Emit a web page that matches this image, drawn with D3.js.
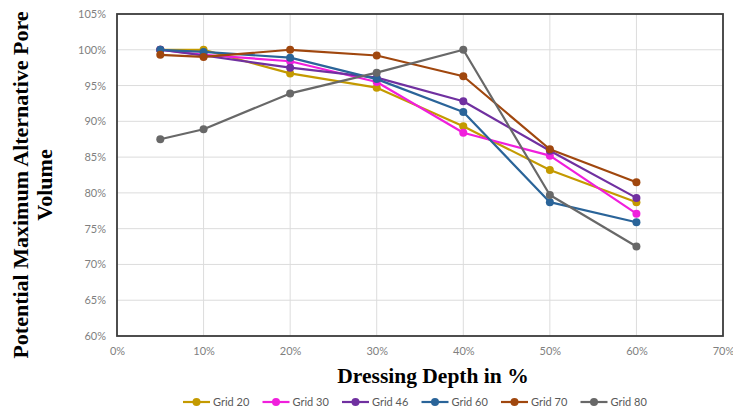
<!DOCTYPE html>
<html>
<head>
<meta charset="utf-8">
<script src="https://cdn.jsdelivr.net/npm/d3@7"></script>
<style>
  html, body { margin: 0; padding: 0; background: #fff; }
  svg { display: block; }
</style>
</head>
<body>
<svg id="chart" width="733" height="414"></svg>
<script>
// Dressing depth (%) at which each grid size was measured
const depths = [5, 10, 20, 30, 40, 50, 60];

// Potential maximum alternative pore volume (%) per grid size
const grid20 = [100.0, 100.0, 96.7, 94.7, 89.3, 83.2, 78.7];
const grid30 = [100.0, 99.3, 98.4, 95.5, 88.4, 85.2, 77.1];
const grid46 = [100.0, 99.2, 97.5, 96.1, 92.8, 85.9, 79.3];
const grid60 = [100.0, 99.7, 98.9, 95.9, 91.3, 78.7, 75.9];
const grid70 = [99.3, 99.0, 100.0, 99.2, 96.3, 86.1, 81.5];
const grid80 = [87.5, 88.9, 93.9, 96.8, 100.0, 79.7, 72.5];

const seriesNames = ["Grid 20", "Grid 30", "Grid 46", "Grid 60", "Grid 70", "Grid 80"];
const seriesColors = ["#C49A00", "#F01FDC", "#7030A0", "#2A6499", "#A0470E", "#686868"];

const xTicks = [0, 10, 20, 30, 40, 50, 60, 70];
const yTicks = [60, 65, 70, 75, 80, 85, 90, 95, 100, 105];

const series = seriesNames.map((name, i) => ({
  name,
  color: seriesColors[i],
  values: [grid20, grid30, grid46, grid60, grid70, grid80][i].map((v, j) => ({ x: depths[j], y: v }))
}));

const svg = d3.select("#chart");
const plot = { left: 117, top: 14, right: 723, bottom: 336 };

const x = d3.scaleLinear().domain([0, 70]).range([plot.left, plot.right]);
const y = d3.scaleLinear().domain([60, 105]).range([plot.bottom, plot.top]);

const tickFont = "Lato, 'Open Sans', sans-serif";
const titleFont = "'Liberation Serif', 'Times New Roman', serif";

// Gridlines
svg.append("g")
  .selectAll("line.h")
  .data(yTicks)
  .join("line")
  .attr("x1", plot.left).attr("x2", plot.right)
  .attr("y1", d => y(d)).attr("y2", d => y(d))
  .attr("stroke", "#dcdcdc").attr("stroke-width", 1);

svg.append("g")
  .selectAll("line.v")
  .data(xTicks)
  .join("line")
  .attr("x1", d => x(d)).attr("x2", d => x(d))
  .attr("y1", plot.top).attr("y2", plot.bottom)
  .attr("stroke", "#dcdcdc").attr("stroke-width", 1);

// Axes (labels only; frame drawn separately)
const yAxis = d3.axisLeft(y).tickValues(yTicks).tickFormat(d => d + "%").tickSize(0).tickPadding(11);
const gy = svg.append("g").attr("transform", `translate(${plot.left},0)`).call(yAxis);
gy.select(".domain").remove();
gy.selectAll("text").attr("fill", "#7f7f7f").style("font-family", tickFont).style("font-size", "11px");

const xAxis = d3.axisBottom(x).tickValues(xTicks).tickFormat(d => d + "%").tickSize(0).tickPadding(11);
const gx = svg.append("g").attr("transform", `translate(0,${plot.bottom})`).call(xAxis);
gx.select(".domain").remove();
gx.selectAll("text").attr("fill", "#7f7f7f").style("font-family", tickFont).style("font-size", "11px");

// Plot frame
svg.append("rect")
  .attr("x", plot.left).attr("y", plot.top)
  .attr("width", plot.right - plot.left).attr("height", plot.bottom - plot.top)
  .attr("fill", "none").attr("stroke", "#3c3c3c").attr("stroke-width", 1.8);

// Lines and markers
const line = d3.line().x(d => x(d.x)).y(d => y(d.y));
const gs = svg.append("g").selectAll("g").data(series).join("g");
gs.append("path")
  .attr("d", d => line(d.values))
  .attr("fill", "none").attr("stroke", d => d.color).attr("stroke-width", 2.2)
  .attr("stroke-linejoin", "round");
gs.selectAll("circle")
  .data(d => d.values.map(v => ({ ...v, color: d.color })))
  .join("circle")
  .attr("cx", d => x(d.x)).attr("cy", d => y(d.y)).attr("r", 4)
  .attr("fill", d => d.color);

// Axis titles
svg.append("text")
  .attr("x", 433).attr("y", 383)
  .attr("text-anchor", "middle")
  .style("font-family", titleFont).style("font-weight", "bold").style("font-size", "21.5px")
  .attr("fill", "#000")
  .text("Dressing Depth in %");

const yTitle = svg.append("text")
  .attr("transform", "translate(0,185) rotate(-90)")
  .attr("text-anchor", "middle")
  .style("font-family", titleFont).style("font-weight", "bold").style("font-size", "22px")
  .attr("fill", "#000");
yTitle.append("tspan").attr("x", 0).attr("y", 28).text("Potential Maximum Alternative Pore");
yTitle.append("tspan").attr("x", 0).attr("y", 52).text("Volume");

// Legend
const legend = svg.append("g").selectAll("g").data(series).join("g")
  .attr("transform", (d, i) => `translate(${183 + i * 79.5},402)`);
legend.append("line").attr("x1", 0).attr("x2", 27).attr("y1", 0).attr("y2", 0)
  .attr("stroke", d => d.color).attr("stroke-width", 2.2);
legend.append("circle").attr("cx", 13.5).attr("cy", 0).attr("r", 4).attr("fill", d => d.color);
legend.append("text").attr("x", 30).attr("y", 4)
  .style("font-family", tickFont).style("font-size", "11px").attr("fill", "#595959")
  .text(d => d.name);
</script>
</body>
</html>
